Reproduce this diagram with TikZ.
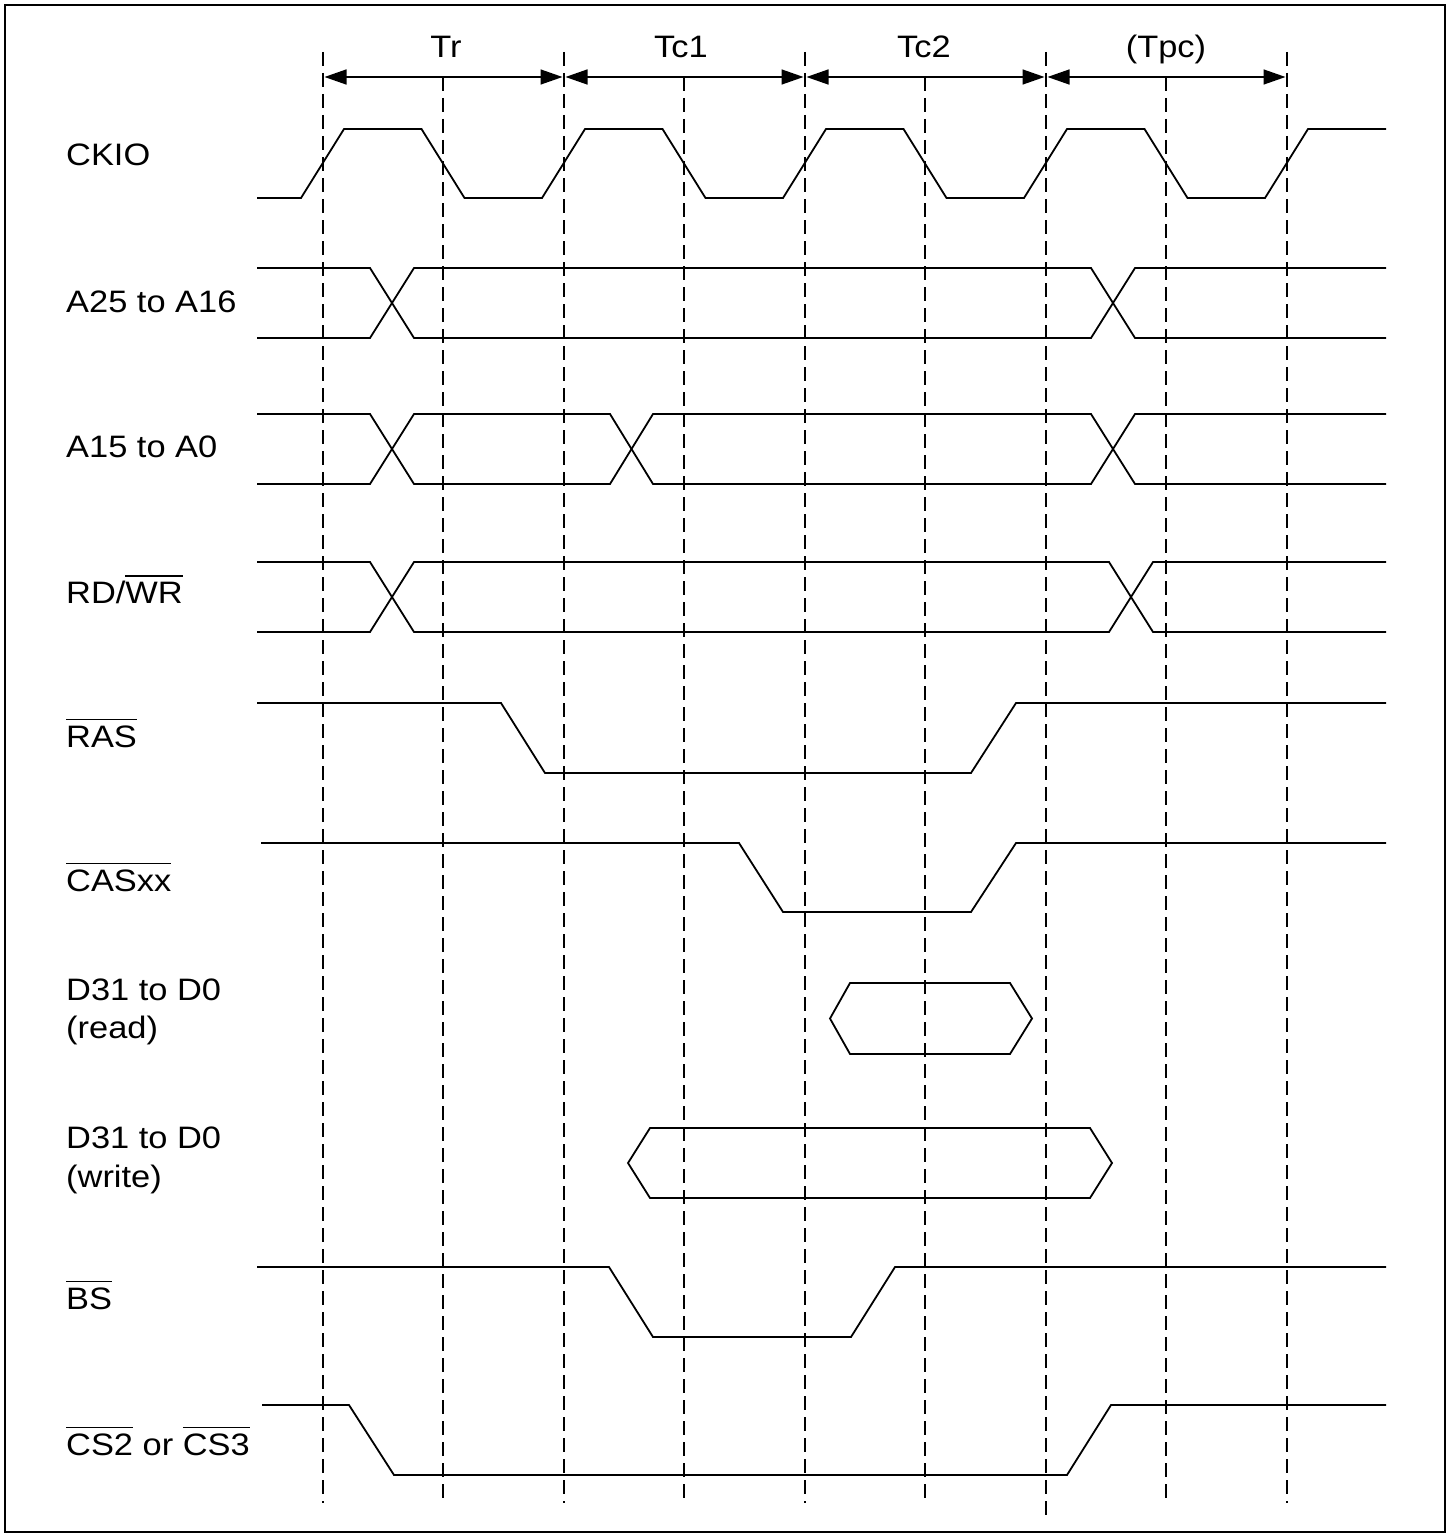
\documentclass[tikz,border=0pt]{standalone}
\usepackage{fontspec}
\setmainfont{Liberation Sans}
\usetikzlibrary{arrows.meta}
\newcommand\ovl[1]{\setbox0=\hbox{#1}\rlap{\raisebox{\dimexpr\ht0+5pt\relax}{\rule{\wd0}{1.5pt}}}\box0\relax}
\newcommand\stx[1]{\scalebox{1.11}[1]{#1}}
\tikzset{
  frame/.style={draw=black, line width=1.2pt},
  grid/.style={draw=black, line width=1.6pt, dash pattern=on 14pt off 7pt},
  sig/.style={draw=black, line width=1.8pt, line join=miter},
  dim/.style={draw=black, line width=1.5pt, {Triangle[length=22pt,width=15pt]}-{Triangle[length=22pt,width=15pt]}, shorten <=1.5pt, shorten >=1.5pt},
  lbl/.style={anchor=base west, inner sep=0pt, font=\fontsize{31}{38}\selectfont},
  hdr/.style={anchor=base, inner sep=0pt, font=\fontsize{31}{38}\selectfont}
}
\begin{document}
\begin{tikzpicture}[x=1pt,y=-1pt]
\useasboundingbox (0,0) rectangle (1451,1536);
\draw[frame] (5,5) rectangle (1445,1532);

% vertical dashed timing lines
\foreach \i/\xx/\yt/\yb in {0/323/52/1503, 1/443/77/1503, 2/564/52/1503, 3/684/77/1503,
  4/805/52/1503, 5/925/77/1503, 6/1046/52/1515, 7/1166/77/1503, 8/1287/52/1503}{
  \coordinate (t\i) at (\xx,\yt);
  \coordinate (b\i) at (\xx,\yb);
  \coordinate (m\i) at (\xx,77);
  \draw[grid] (t\i) -- (b\i);
}

% period dimension arrows
\draw[dim] (m0) -- (m2);
\draw[dim] (m2) -- (m4);
\draw[dim] (m4) -- (m6);
\draw[dim] (m6) -- (m8);
\node[hdr] (Tr)  at (446,58) {\stx{Tr}};
\node[hdr] (Tc1) at (681,58) {\stx{Tc1}};
\node[hdr] (Tc2) at (924,58) {\stx{Tc2}};
\node[hdr] (Tpc) at (1166,58) {\stx{(Tpc)}};

% signal labels
\node[lbl] (lckio) at (66,165) {\stx{CKIO}};
\node[lbl] (la25)  at (66,312) {\stx{A25 to A16}};
\node[lbl] (la15)  at (66,457) {\stx{A15 to A0}};
\node[lbl] (lrd)   at (66,603) {\stx{RD/\ovl{WR}}};
\node[lbl] (lras)  at (66,747) {\stx{\ovl{RAS}}};
\node[lbl] (lcas)  at (66,891) {\stx{\ovl{CASxx}}};
\node[lbl] (ldr1)  at (66,1000) {\stx{D31 to D0}};
\node[lbl] (ldr2)  at (66,1038) {\stx{(read)}};
\node[lbl] (ldw1)  at (66,1148) {\stx{D31 to D0}};
\node[lbl] (ldw2)  at (66,1187) {\stx{(write)}};
\node[lbl] (lbs)   at (66,1309) {\stx{\ovl{BS}}};
\node[lbl] (lcs)   at (66,1455) {\stx{\ovl{CS2} or \ovl{CS3}}};

% CKIO
\draw[sig] (257,198) -- (301,198) -- (344,129) -- (421.5,129) -- (464.5,198) -- (542,198) -- (585,129)
  -- (662.5,129) -- (705.5,198) -- (783,198) -- (826,129) -- (903.5,129) -- (946.5,198) -- (1024,198)
  -- (1067,129) -- (1144.5,129) -- (1187.5,198) -- (1265,198) -- (1308,129) -- (1386,129);

% A25 to A16
\draw[sig] (257,268) -- (370,268) -- (414,338) -- (1091,338) -- (1135,268) -- (1386,268);
\draw[sig] (257,338) -- (370,338) -- (414,268) -- (1091,268) -- (1135,338) -- (1386,338);

% A15 to A0
\draw[sig] (257,414) -- (370,414) -- (414,484) -- (610,484) -- (653,414) -- (1091,414) -- (1135,484) -- (1386,484);
\draw[sig] (257,484) -- (370,484) -- (414,414) -- (610,414) -- (653,484) -- (1091,484) -- (1135,414) -- (1386,414);

% RD/WR
\draw[sig] (257,562) -- (370,562) -- (414,632) -- (1109,632) -- (1153,562) -- (1386,562);
\draw[sig] (257,632) -- (370,632) -- (414,562) -- (1109,562) -- (1153,632) -- (1386,632);

% RAS
\draw[sig] (257,703) -- (501,703) -- (545,773) -- (971,773) -- (1016,703) -- (1386,703);

% CASxx
\draw[sig] (261,843) -- (739,843) -- (783,912) -- (971,912) -- (1016,843) -- (1386,843);

% D31 to D0 (read)
\draw[sig] (830,1018.5) -- (850,983) -- (1010,983) -- (1032,1018.5) -- (1010,1054) -- (850,1054) -- cycle;

% D31 to D0 (write)
\draw[sig] (628,1163) -- (650,1128) -- (1090,1128) -- (1112,1163) -- (1090,1198) -- (650,1198) -- cycle;

% BS
\draw[sig] (257,1267) -- (609,1267) -- (653,1337) -- (851,1337) -- (895,1267) -- (1386,1267);

% CS2 or CS3
\draw[sig] (262,1405) -- (349,1405) -- (394,1475) -- (1067,1475) -- (1111,1405) -- (1386,1405);
\end{tikzpicture}
\end{document}
